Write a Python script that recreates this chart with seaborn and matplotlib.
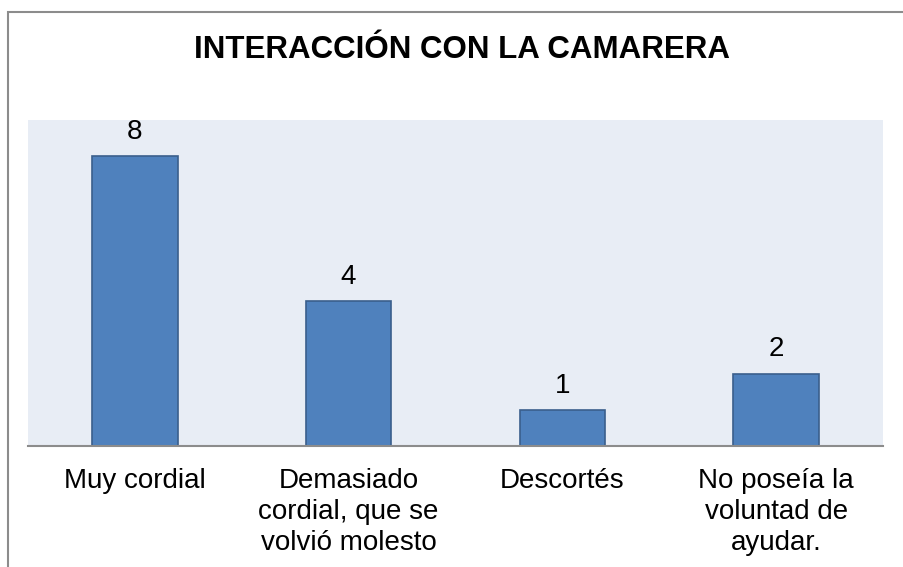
import matplotlib
matplotlib.use("Agg")
import matplotlib.pyplot as plt
import matplotlib.patches as mpatches
import seaborn as sns
import pandas as pd

categories = ["Muy cordial", "Demasiado\ncordial, que se\nvolvió molesto", "Descortés", "No poseía la\nvoluntad de\nayudar."]
values = [8, 4, 1, 2]
title = "INTERACCIÓN CON LA CAMARERA"

sns.set_theme(style="white")
plt.rcParams["font.family"] = ["Liberation Sans", "DejaVu Sans"]

df = pd.DataFrame({"cat": categories, "val": values})

fig = plt.figure(figsize=(9.04, 5.67), dpi=100)
ax = fig.add_axes([28 / 904, 1 - 446 / 567, (883 - 28) / 904, (446 - 120) / 567])
ax.set_facecolor("#e8edf5")

sns.barplot(data=df, x="cat", y="val", ax=ax, color="#4f81bd", width=0.4,
            saturation=1, edgecolor="#3a5f8c", linewidth=1.2)

ax.set_ylim(0, 9)
ax.set_xlim(-0.5, 3.5)
ax.set_yticks([])
ax.set_xlabel("")
ax.set_ylabel("")
for s in ["top", "right", "left"]:
    ax.spines[s].set_visible(False)
ax.spines["bottom"].set_color("#8c8c8c")
ax.spines["bottom"].set_linewidth(1.5)
ax.tick_params(axis="x", length=0, pad=15.5, labelsize=20, colors="black")
for lbl in ax.get_xticklabels():
    lbl.set_linespacing(1.27)

for c in ax.containers:
    ax.bar_label(c, labels=[str(v) for v in values], padding=8, fontsize=20, color="black")

fig.text(462 / 904, 1 - 50 / 567, title, ha="center", va="center",
         fontsize=22.5, fontweight="bold", color="black")

border = mpatches.Rectangle((7.5 / 904, -0.1), 1.2, 1 - 11.5 / 567 + 0.1,
                            transform=fig.transFigure, fill=False,
                            edgecolor="#8c8c8c", linewidth=1.5, clip_on=False)
fig.patches.append(border)

fig.savefig("out.png", dpi=100)
